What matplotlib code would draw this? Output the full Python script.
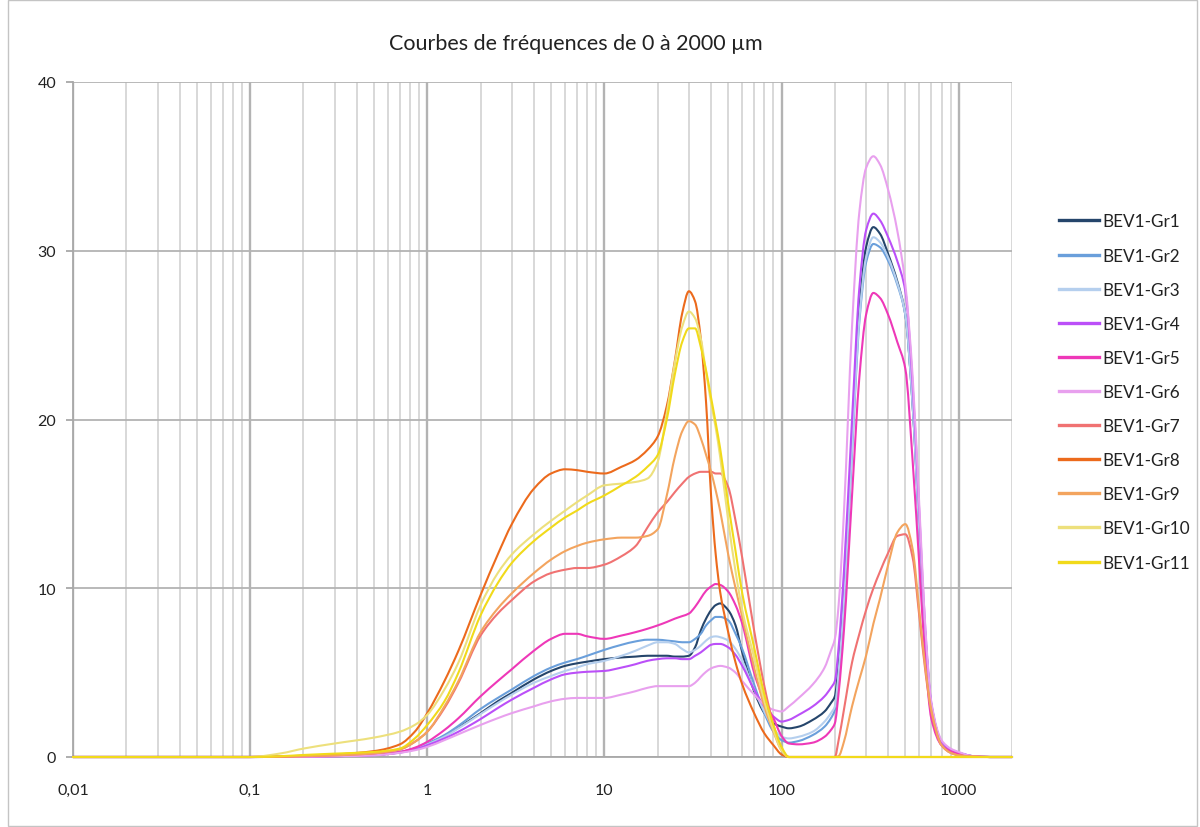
import math
import matplotlib
matplotlib.use("Agg")
import matplotlib.pyplot as plt
from matplotlib.ticker import FixedLocator, FixedFormatter, NullFormatter
from matplotlib.patches import Rectangle, PathPatch
from matplotlib.path import Path
from matplotlib.lines import Line2D

plt.rcParams['font.family'] = ['Lato', 'DejaVu Sans']

# Particle size classes (µm)
size_um = [0.01, 0.1, 0.15, 0.2, 0.3, 0.5, 0.7, 0.85, 1,
           1.25, 1.5, 2, 2.5, 3, 4, 5, 6, 7, 8, 10,
           12.5, 15, 17.5, 20, 22.5, 25, 27.5, 30, 32.5, 35, 37.5, 40, 42.5, 45, 50, 55, 60,
           70, 80, 90, 100, 110, 125, 150, 175, 190,
           200, 210, 225, 250, 275, 300, 330, 360, 400, 450,
           500, 550, 600, 650, 700, 800, 900, 1000, 1200, 1500, 2000]

# Frequency (%) per sample
gr1 = [0, 0, 0.01, 0.02, 0.05, 0.12, 0.28, 0.5, 0.75,
       1.25, 1.75, 2.6, 3.3, 3.8, 4.6, 5.1, 5.4, 5.55, 5.65, 5.8,
       5.9, 5.95, 6.0, 6.0, 6.0, 5.95, 5.95, 6.0, 6.5, 7.5, 8.2, 8.7, 9.0, 9.1, 8.7, 7.8, 6.2,
       3.9, 2.6, 2.0, 1.8, 1.7, 1.8, 2.2, 2.7, 3.2,
       3.6, 5.5, 9.5, 18.8, 26.5, 30.2, 31.4, 31.0, 29.8, 28.2,
       26.2, 20.8, 13.3, 7.0, 3.1, 0.9, 0.45, 0.25, 0.05, 0, 0]
gr2 = [0, 0, 0.01, 0.02, 0.05, 0.12, 0.3, 0.5, 0.8,
       1.3, 1.85, 2.85, 3.5, 4.0, 4.8, 5.3, 5.6, 5.8, 6.0, 6.35,
       6.65, 6.85, 6.95, 6.95, 6.9, 6.85, 6.8, 6.8, 7.0, 7.3, 7.8, 8.1, 8.3, 8.3, 8.1, 7.3, 6.4,
       4.3, 2.6, 1.5, 1.0, 0.85, 0.95, 1.3, 1.8, 2.3,
       2.8, 4.8, 9.0, 18.0, 25.8, 29.3, 30.4, 30.2, 29.4, 28.0,
       26.2, 20.8, 13.3, 7.0, 3.1, 0.9, 0.45, 0.25, 0.05, 0, 0]
gr3 = [0, 0, 0.01, 0.02, 0.05, 0.11, 0.27, 0.48, 0.75,
       1.2, 1.7, 2.55, 3.2, 3.7, 4.4, 4.8, 5.1, 5.3, 5.5, 5.7,
       6.0, 6.3, 6.6, 6.8, 6.8, 6.7, 6.4, 6.2, 6.35, 6.6, 6.9, 7.1, 7.15, 7.1, 6.9, 6.4, 5.7,
       4.0, 2.7, 1.7, 1.2, 1.1, 1.2, 1.5, 2.1, 2.6,
       3.0, 5.0, 9.2, 18.3, 26.0, 29.6, 30.8, 30.5, 29.6, 28.1,
       26.2, 20.8, 13.3, 7.0, 3.1, 0.9, 0.45, 0.25, 0.05, 0, 0]
gr4 = [0, 0, 0.01, 0.02, 0.05, 0.11, 0.26, 0.45, 0.7,
       1.1, 1.5, 2.25, 2.9, 3.4, 4.1, 4.6, 4.9, 5.0, 5.05, 5.1,
       5.3, 5.5, 5.7, 5.8, 5.85, 5.85, 5.8, 5.8, 6.0, 6.2, 6.45, 6.65, 6.7, 6.7, 6.5, 6.05, 5.4,
       4.0, 3.0, 2.4, 2.1, 2.2, 2.5, 3.0, 3.6, 4.1,
       4.5, 6.5, 11.0, 20.0, 27.8, 31.2, 32.2, 31.8, 30.8, 29.4,
       27.6, 22.0, 14.4, 7.3, 3.2, 0.9, 0.45, 0.25, 0.05, 0, 0]
gr5 = [0, 0, 0.01, 0.02, 0.05, 0.12, 0.3, 0.55, 0.9,
       1.6, 2.3, 3.6, 4.5, 5.2, 6.3, 7.0, 7.3, 7.3, 7.15, 7.0,
       7.2, 7.4, 7.6, 7.8, 8.0, 8.2, 8.35, 8.5, 8.9, 9.4, 9.85, 10.1, 10.25, 10.2, 9.8, 9.0, 7.9,
       5.0, 3.3, 2.3, 1.25, 0.8, 0.75, 0.85, 1.2, 1.6,
       2.0, 3.8, 7.5, 15.5, 22.5, 26.2, 27.5, 27.2, 26.2, 24.6,
       23.0, 17.5, 11.3, 5.6, 2.3, 0.7, 0.35, 0.2, 0.05, 0, 0]
gr6 = [0, 0, 0.01, 0.02, 0.04, 0.1, 0.25, 0.4, 0.6,
       1.0, 1.35, 1.9, 2.3, 2.6, 3.0, 3.3, 3.45, 3.5, 3.5, 3.5,
       3.7, 3.9, 4.1, 4.2, 4.2, 4.2, 4.2, 4.2, 4.4, 4.75, 5.05, 5.25, 5.35, 5.4, 5.3, 5.0, 4.5,
       3.7, 3.1, 2.8, 2.7, 3.0, 3.5, 4.3, 5.3, 6.3,
       7.0, 9.0, 14.5, 25.5, 32.3, 34.9, 35.6, 35.1, 33.6, 31.2,
       28.0, 22.5, 14.8, 7.5, 3.3, 1.0, 0.5, 0.3, 0.05, 0, 0]
gr7 = [0, 0, 0.02, 0.05, 0.1, 0.22, 0.45, 0.9, 1.5,
       2.9, 4.4, 7.2, 8.5, 9.3, 10.4, 10.9, 11.1, 11.2, 11.2, 11.4,
       11.9, 12.5, 13.6, 14.5, 15.1, 15.7, 16.2, 16.6, 16.8, 16.9, 16.9, 16.9, 16.8, 16.8, 16.0, 14.0, 11.8,
       7.5, 4.2, 1.9, 0.5, 0, 0, 0, 0, 0,
       0, 1.0, 2.8, 5.6, 7.3, 8.7, 10.0, 11.0, 12.1, 13.1,
       13.2, 11.8, 8.3, 5.0, 2.7, 0.7, 0.25, 0.1, 0.03, 0, 0]
gr8 = [0, 0, 0.03, 0.08, 0.15, 0.35, 0.75, 1.5, 2.6,
       4.5, 6.3, 9.6, 12.0, 13.8, 15.9, 16.8, 17.05, 17.0, 16.9, 16.8,
       17.2, 17.6, 18.2, 19.0, 20.8, 23.5, 26.3, 27.6, 27.0, 24.8, 21.0, 15.5, 12.0, 9.8, 7.4, 5.6, 4.3,
       2.6, 1.4, 0.7, 0.15, 0, 0, 0, 0, 0,
       0, 0, 0, 0, 0, 0, 0, 0, 0, 0,
       0, 0, 0, 0, 0, 0, 0, 0, 0, 0, 0]
gr9 = [0, 0, 0.02, 0.05, 0.1, 0.22, 0.45, 0.9, 1.5,
       3.0, 4.5, 7.4, 8.8, 9.7, 10.9, 11.7, 12.2, 12.5, 12.7, 12.9,
       13.0, 13.0, 13.1, 13.5, 15.5, 17.8, 19.3, 19.9, 19.7, 18.9, 17.9, 16.9, 15.8, 14.6, 12.0, 10.0, 8.3,
       5.3, 3.0, 1.5, 0.4, 0, 0, 0, 0, 0,
       0, 0.05, 0.9, 3.0, 4.6, 6.0, 7.9, 9.4, 11.4, 13.3,
       13.8, 12.3, 8.6, 5.2, 2.8, 0.7, 0.25, 0.1, 0.03, 0, 0]
gr10 = [0, 0, 0.22, 0.5, 0.8, 1.15, 1.5, 1.9, 2.5,
        4.0, 5.6, 9.0, 10.9, 12.0, 13.2, 14.0, 14.6, 15.1, 15.5, 16.1,
        16.2, 16.3, 16.5, 17.5, 20.4, 23.4, 25.5, 26.4, 26.0, 24.8, 22.8, 21.0, 19.5, 17.8, 14.0, 11.0, 8.7,
        5.9, 3.3, 1.6, 0.4, 0, 0, 0, 0, 0,
        0, 0, 0, 0, 0, 0, 0, 0, 0, 0,
        0, 0, 0, 0, 0, 0, 0, 0, 0, 0, 0]
gr11 = [0, 0, 0.05, 0.12, 0.2, 0.3, 0.5, 1.1, 1.9,
        3.3, 5.0, 8.4, 10.3, 11.5, 12.8, 13.6, 14.2, 14.6, 15.0, 15.5,
        16.1, 16.6, 17.2, 17.9, 20.0, 22.7, 24.6, 25.4, 25.4, 24.3, 22.9, 21.3, 19.8, 18.3, 15.0, 12.2, 9.7,
        6.5, 3.7, 1.9, 0.6, 0, 0, 0, 0, 0,
        0, 0, 0, 0, 0, 0, 0, 0, 0, 0,
        0, 0, 0, 0, 0, 0, 0, 0, 0, 0, 0]

series_names = ["BEV1-Gr1", "BEV1-Gr2", "BEV1-Gr3", "BEV1-Gr4", "BEV1-Gr5", "BEV1-Gr6",
                "BEV1-Gr7", "BEV1-Gr8", "BEV1-Gr9", "BEV1-Gr10", "BEV1-Gr11"]
series_values = [gr1, gr2, gr3, gr4, gr5, gr6, gr7, gr8, gr9, gr10, gr11]
series_colors = ["#25456B", "#6A9FDB", "#B5CFEE", "#BB4FF8", "#EE38B8", "#E8A0EE",
                 "#F07272", "#EC6A1C", "#F3A45E", "#EDE07C", "#F1DA1A"]

x_tick_values = [0.01, 0.1, 1, 10, 100, 1000]
x_tick_labels = ["0,01", "0,1", "1", "10", "100", "1000"]
y_tick_values = [0, 10, 20, 30, 40]

title_text = "Courbes de fréquences de 0 à 2000 µm"


def smooth_path(xs, ys):
    """Smoothed line through the points: monotone cubic segments in
    (log10 x, y), expressed as Bezier curves in data coordinates."""
    t = [math.log10(v) for v in xs]
    n = len(t)
    h = [t[k + 1] - t[k] for k in range(n - 1)]
    d = [(ys[k + 1] - ys[k]) / h[k] for k in range(n - 1)]
    m = [0.0] * n
    m[0], m[-1] = d[0], d[-1]
    for k in range(1, n - 1):
        if d[k - 1] * d[k] <= 0:
            m[k] = 0.0
        else:
            w1 = 2 * h[k] + h[k - 1]
            w2 = h[k] + 2 * h[k - 1]
            m[k] = (w1 + w2) / (w1 / d[k - 1] + w2 / d[k])
    verts = [(xs[0], ys[0])]
    codes = [Path.MOVETO]
    for k in range(n - 1):
        c1 = (10 ** (t[k] + h[k] / 3), ys[k] + m[k] * h[k] / 3)
        c2 = (10 ** (t[k + 1] - h[k] / 3), ys[k + 1] - m[k + 1] * h[k] / 3)
        verts += [c1, c2, (xs[k + 1], ys[k + 1])]
        codes += [Path.CURVE4] * 3
    return Path(verts, codes)


W, H = 1200, 828
fig = plt.figure(figsize=(W / 100, H / 100), dpi=100)
fig.patch.set_facecolor("white")

# chart frame around everything
fig.patches.append(Rectangle((8 / W, 1 / H), (1197 - 8) / W, (827 - 1) / H,
                             transform=fig.transFigure, fill=False,
                             edgecolor="#c4c4c4", lw=1.0))

ax = fig.add_axes([73 / W, 70 / H, (1012 - 73) / W, (758 - 83) / H])
ax.set_xscale("log")
ax.set_xlim(0.01, 2000)
ax.set_ylim(0, 40)

# log grid: decades, intermediate values and the 2000 limit
minor_vals = [m * 10.0 ** e for e in range(-2, 3) for m in range(2, 10)] + [2000]
ax.xaxis.set_major_locator(FixedLocator(x_tick_values))
ax.xaxis.set_major_formatter(FixedFormatter(x_tick_labels))
ax.xaxis.set_minor_locator(FixedLocator(minor_vals))
ax.xaxis.set_minor_formatter(NullFormatter())
ax.set_yticks(y_tick_values)

ax.grid(which="major", axis="x", color="#b3b3b3", lw=1.7)
ax.grid(which="minor", axis="x", color="#d6d6d6", lw=1.3)
ax.grid(which="major", axis="y", color="#b3b3b3", lw=1.3)
ax.set_axisbelow(True)

for side in ("top", "right"):
    ax.spines[side].set_visible(False)
for side in ("left", "bottom"):
    ax.spines[side].set_color("#a8a8a8")
    ax.spines[side].set_linewidth(1.3)

ax.tick_params(axis="x", which="both", length=0, pad=19, labelsize=11.5, labelcolor="#222222")
ax.tick_params(axis="y", length=5, width=1.3, color="#a8a8a8", pad=7,
               labelsize=11.5, labelcolor="#222222")

handles = []
for i, (name, vals, col) in enumerate(zip(series_names, series_values, series_colors)):
    patch = PathPatch(smooth_path(size_um, vals), fill=False, edgecolor=col, lw=1.5,
                      transform=ax.transData, clip_on=False, zorder=3 + i * 0.01,
                      joinstyle="round", capstyle="round")
    ax.add_patch(patch)
    handles.append(Line2D([], [], color=col, lw=2.4, label=name))

fig.text(576 / W, 1 - 44 / H, title_text, ha="center", va="center",
         fontsize=15.5, color="#222222")

leg = fig.legend(handles=handles, loc="center left",
                 bbox_to_anchor=(1059 / W, 1 - 393 / H),
                 bbox_transform=fig.transFigure, frameon=False,
                 fontsize=12.3, handlelength=2.35, handletextpad=0.2,
                 labelspacing=1.06, borderpad=0, borderaxespad=0)
for txt in leg.get_texts():
    txt.set_color("#222222")

fig.savefig("out.png", dpi=100, facecolor="white")
